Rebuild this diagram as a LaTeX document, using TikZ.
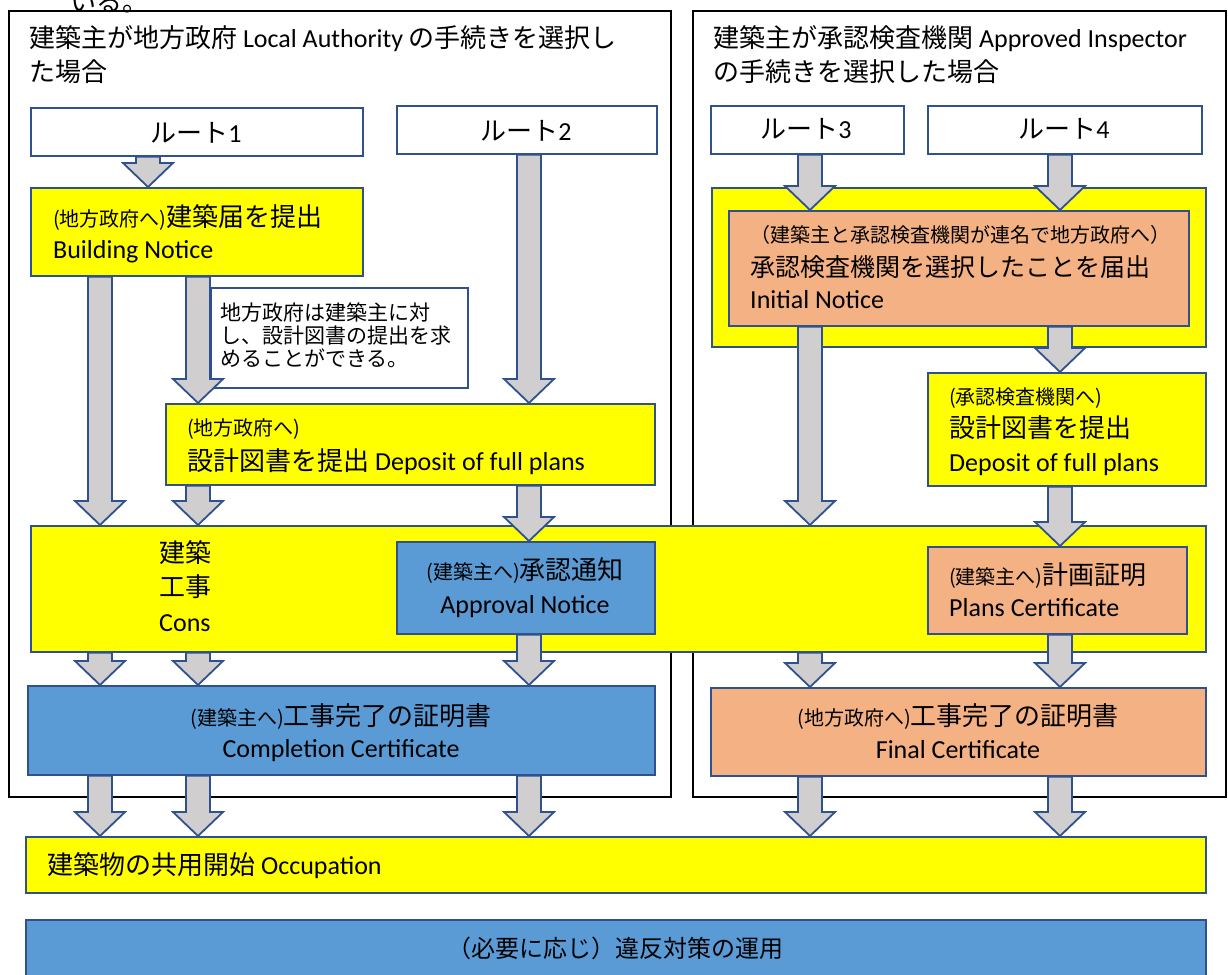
\documentclass[tikz,border=0pt]{standalone}
\usepackage{fontspec}
\setmainfont{Carlito}
\newfontfamily\jp{Noto Sans CJK JP}
\usetikzlibrary{calc,positioning}

\definecolor{yel}{HTML}{FFFF00}
\definecolor{blu}{HTML}{5B9BD5}
\definecolor{sal}{HTML}{F4B183}
\definecolor{grayf}{HTML}{D0CECE}
\definecolor{bord}{HTML}{2F528F}

\newcommand{\smj}[1]{{\fontsize{20}{24}\selectfont\jp #1}}
% block arrow from a start point down to an end point
\newcommand{\barrow}[2]{\draw[barr] let \p1=#1, \p2=#2 in
  (\x1-12pt,\y1) -- (\x1+12pt,\y1) -- (\x1+12pt,\y2+24pt) -- (\x1+25pt,\y2+24pt)
  -- (\x1,\y2) -- (\x1-25pt,\y2+24pt) -- (\x1-12pt,\y2+24pt) -- cycle;}

\begin{document}
\begin{tikzpicture}[x=1pt,y=-1pt,
    frame/.style={draw=black,line width=2,anchor=north west,inner sep=0},
    box/.style={draw=bord,line width=1.8,anchor=north west,inner sep=0},
    wbox/.style={box,fill=white},
    ybox/.style={box,fill=yel},
    bbox/.style={box,fill=blu},
    sbox/.style={box,fill=sal},
    barr/.style={fill=grayf,draw=bord,line width=1.8,line join=miter},
    txt/.style={inner sep=0,anchor=base west,font=\fontsize{26}{30}\selectfont},
    ctxt/.style={txt,anchor=base},
    ntxt/.style={txt,font=\fontsize{21}{24}\selectfont}]

  \useasboundingbox (0,0) rectangle (1228,974);

  % outer frames
  \node[frame,minimum width=662,minimum height=786] (laf) at (8,10) {};
  \node[frame,minimum width=533,minimum height=786] (aif) at (692,10) {};
  \node[txt] (cut) at (70,12) {\jp いる。};

  \node[txt] (lt1) at (29,47.5) {{\jp 建築主が地方政府} Local Authority {\jp の手続きを選択し}};
  \node[txt] (lt2) at (29,81.5) {\jp た場合};
  \node[txt] (rt1) at (713,47.5) {{\jp 建築主が承認検査機関} Approved Inspector};
  \node[txt] (rt2) at (713,81.5) {\jp の手続きを選択した場合};

  % routes
  \node[wbox,minimum width=332,minimum height=48] (r1) at (30,107) {};
  \node[wbox,minimum width=260,minimum height=48] (r2) at (396,105) {};
  \node[wbox,minimum width=193,minimum height=48] (r3) at (710,105) {};
  \node[wbox,minimum width=274,minimum height=48] (r4) at (927,105) {};
  \node[ctxt] (r1t) at (196,142) {{\jp ルート}1};
  \node[ctxt] (r2t) at (526,140) {{\jp ルート}2};
  \node[ctxt] (r3t) at (806,138) {{\jp ルート}3};
  \node[ctxt] (r4t) at (1064,138) {{\jp ルート}4};

  % local authority side
  \node[ybox,minimum width=332,minimum height=88] (bn) at (30,187) {};
  \node[txt] (bn1) at (53,226.5) {\smj{(地方政府へ)}{\jp 建築届を提出}};
  \node[txt] (bn2) at (53,258.5) {Building Notice};

  \node[wbox,minimum width=257,minimum height=100] (note) at (210,287) {};
  \node[ntxt] (note1) at (220,320) {\jp 地方政府は建築主に対};
  \node[ntxt] (note2) at (220,343) {\jp し、設計図書の提出を求};
  \node[ntxt] (note3) at (220,366) {\jp めることができる。};

  \node[ybox,minimum width=489,minimum height=81] (dpl) at (165,403) {};
  \node[txt] (dpl1) at (187,435.5) {\smj{(地方政府へ)}};
  \node[txt] (dpl2) at (187,470.5) {{\jp 設計図書を提出} Deposit of full plans};

  % construction
  \node[ybox,minimum width=1175,minimum height=126] (cons) at (30,525) {};
  \node[txt] (cons1) at (159,562.5) {\jp 建築};
  \node[txt] (cons2) at (159,596.5) {\jp 工事};
  \node[txt] (cons3) at (159,631.5) {Cons};

  \node[bbox,minimum width=258,minimum height=92] (apn) at (396,541) {};
  \node[ctxt] (apn1) at (525,579.5) {\smj{(建築主へ)}{\jp 承認通知}};
  \node[ctxt] (apn2) at (525,613.5) {Approval Notice};

  \node[sbox,minimum width=259,minimum height=87] (pcs) at (927,546) {};
  \node[txt] (pcs1) at (949,584.5) {\smj{(建築主へ)}{\jp 計画証明}};
  \node[txt] (pcs2) at (949,616.5) {Plans Certificate};

  % completion
  \node[bbox,minimum width=627,minimum height=89] (cmp) at (27,685) {};
  \node[ctxt] (cmp1) at (341,725.5) {\smj{(建築主へ)}{\jp 工事完了の証明書}};
  \node[ctxt] (cmp2) at (341,757.5) {Completion Certificate};

  \node[sbox,minimum width=495,minimum height=88] (fin) at (710,687) {};
  \node[ctxt] (fin1) at (958,725.5) {\smj{(地方政府へ)}{\jp 工事完了の証明書}};
  \node[ctxt] (fin2) at (958,758.5) {Final Certificate};

  % approved inspector side
  \node[ybox,minimum width=494,minimum height=159] (iny) at (711,187) {};
  \node[sbox,minimum width=460,minimum height=115] (ins) at (728,210) {};
  \node[txt,font=\fontsize{20}{24}\selectfont] (ins1) at (750,242.5) {\jp （建築主と承認検査機関が連名で地方政府へ）};
  \node[txt,font=\fontsize{25}{30}\selectfont] (ins2) at (750,276.5) {\jp 承認検査機関を選択したことを届出};
  \node[txt] (ins3) at (750,308.5) {Initial Notice};

  \node[ybox,minimum width=278,minimum height=113] (dpr) at (927,372) {};
  \node[txt] (dpr1) at (949,404.5) {\smj{(承認検査機関へ)}};
  \node[txt] (dpr2) at (949,437.5) {\jp 設計図書を提出};
  \node[txt] (dpr3) at (949,471.5) {Deposit of full plans};

  % occupation and enforcement
  \node[ybox,minimum width=1180,minimum height=56] (occ) at (25,836) {};
  \node[txt] (occ1) at (47,874.5) {{\jp 建築物の共用開始} Occupation};
  \node[bbox,minimum width=1180,minimum height=80] (enf) at (25,919) {};
  \node[ctxt,font=\fontsize{24}{28}\selectfont] (enf1) at (615,957) {\jp （必要に応じ）違反対策の運用};

  % arrow columns
  \coordinate (cR1) at (148,0);
  \coordinate (cA) at (100,0);
  \coordinate (cB) at (198,0);
  \coordinate (cC) at (529,0);
  \coordinate (cD) at (810,0);
  \coordinate (cE) at (1060,0);

  \barrow{(r1.south -| cR1)}{(bn.north -| cR1)}
  \barrow{(bn.south -| cA)}{(cons.north -| cA)}
  \barrow{(bn.south -| cB)}{(dpl.north -| cB)}
  \barrow{(r2.south -| cC)}{(dpl.north -| cC)}
  \barrow{(dpl.south -| cB)}{(cons.north -| cB)}
  \barrow{(dpl.south -| cC)}{(apn.north -| cC)}
  \barrow{(cons.south -| cA)}{(cmp.north -| cA)}
  \barrow{(cons.south -| cB)}{(cmp.north -| cB)}
  \barrow{(apn.south -| cC)}{(cmp.north -| cC)}
  \barrow{(cmp.south -| cA)}{(occ.north -| cA)}
  \barrow{(cmp.south -| cB)}{(occ.north -| cB)}
  \barrow{(cmp.south -| cC)}{(occ.north -| cC)}

  \barrow{(r3.south -| cD)}{(ins.north -| cD)}
  \barrow{(r4.south -| cE)}{(ins.north -| cE)}
  \barrow{(ins.south -| cD)}{(cons.north -| cD)}
  \barrow{(ins.south -| cE)}{(dpr.north -| cE)}
  \barrow{(dpr.south -| cE)}{(pcs.north -| cE)}
  \barrow{(cons.south -| cD)}{(fin.north -| cD)}
  \barrow{(pcs.south -| cE)}{(fin.north -| cE)}
  \barrow{(fin.south -| cD)}{(occ.north -| cD)}
  \barrow{(fin.south -| cE)}{(occ.north -| cE)}

\end{tikzpicture}
\end{document}
